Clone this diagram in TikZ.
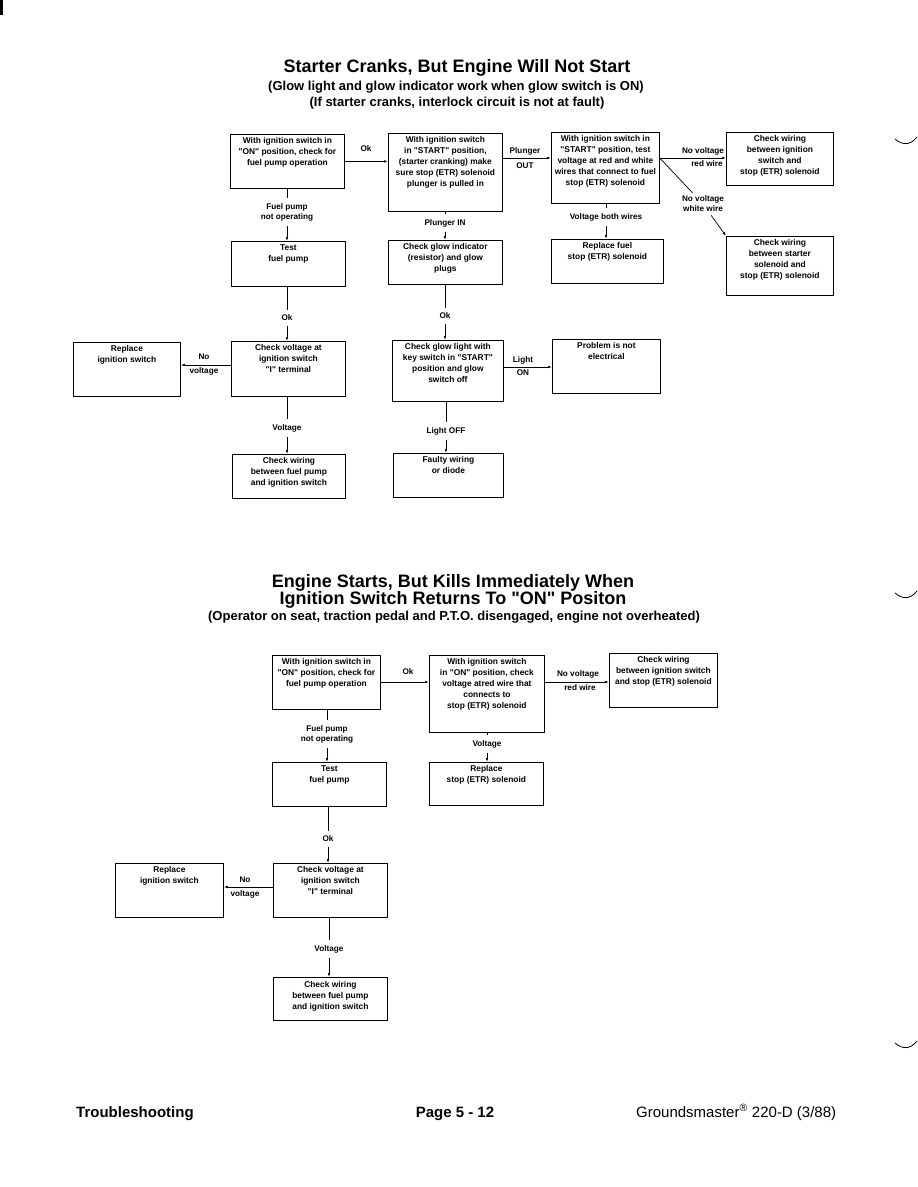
\documentclass[tikz,border=0pt]{standalone}
\usepackage{fontspec}
\setmainfont{Liberation Sans}
\usetikzlibrary{arrows.meta,calc}
\tikzset{
 box/.style={draw,line width=0.8pt,inner sep=0pt,anchor=north west,font=\bfseries\fontsize{8.4}{11}\selectfont},
 lbl/.style={font=\bfseries\fontsize{8.2}{10}\selectfont,inner sep=1pt,align=center},
 vlbl/.style={lbl,inner ysep=5pt},
 conn/.style={line width=0.7pt},
 arr/.style={conn,-{Latex[length=4pt,width=2.6pt]}},
 ttl/.style={font=\bfseries\fontsize{18}{18}\selectfont,anchor=base,inner sep=0pt},
 subttl/.style={font=\bfseries\fontsize{13}{13}\selectfont,anchor=base,inner sep=0pt},
 foot/.style={font=\fontsize{15}{15}\selectfont,inner sep=0pt},
 edgemark/.style={line width=0.8pt},
}
\newcommand\q{\textquotedbl}
\newcommand\bx[6]{\node[box] (#1) at (#2,#3) {\parbox[c][#5pt][t]{#4pt}{\centering\vspace*{3.5pt}#6\par}};}
\begin{document}
\begin{tikzpicture}[x=1pt,y=-1pt]
\useasboundingbox (0,0) rectangle (918,1187);
\fill (0,0) rectangle (3,15);
\draw[edgemark] (895,139) .. controls (902,145) and (910,146) .. (917,137);
\draw[edgemark] (895,593) .. controls (902,599) and (910,600) .. (917,591);
\draw[edgemark] (895,1043) .. controls (902,1049) and (910,1050) .. (917,1041);
% titles
\node[ttl] (t1) at (457,72) {Starter Cranks, But Engine Will Not Start};
\node[subttl] (t2) at (456,90) {(Glow light and glow indicator work when glow switch is ON)};
\node[subttl] (t3) at (457,106) {(If starter cranks, interlock circuit is not at fault)};
\node[ttl] (t4) at (453,587) {Engine Starts, But Kills Immediately When};
\node[ttl] (t5) at (453,604) {Ignition Switch Returns To \q ON\q{} Positon};
\node[subttl] (t6) at (454,620) {(Operator on seat, traction pedal and P.T.O. disengaged, engine not overheated)};
% ---------- top chart boxes
\bx{A1}{230}{134}{114}{54}{With ignition switch in\\\q ON\q{} position, check for\\fuel pump operation}
\bx{A2}{388}{133}{114}{78}{With ignition switch\\in \q START\q{} position,\\(starter cranking) make\\sure stop (ETR) solenoid\\plunger is pulled in}
\bx{A3}{551}{132}{108}{71}{With ignition switch in\\\q START\q{} position, test\\voltage at red and white\\wires that connect to fuel\\stop (ETR) solenoid}
\bx{A4}{726}{132}{107}{53}{Check wiring\\between ignition\\switch and\\stop (ETR) solenoid}
\bx{A5}{726}{236}{107}{59}{Check wiring\\between starter\\solenoid and\\stop (ETR) solenoid}
\bx{B1}{231}{241}{114}{45}{Test\\fuel pump}
\bx{B2}{388}{240}{114}{44}{Check glow indicator\\(resistor) and glow\\plugs}
\bx{B3}{551}{239}{112}{44}{Replace fuel\\stop (ETR) solenoid}
\bx{C0}{73}{342}{107}{54}{Replace\\ignition switch}
\bx{C1}{231}{341}{114}{55}{Check voltage at\\ignition switch\\\q I\q{} terminal}
\bx{C2}{392}{340}{111}{61}{Check glow light with\\key switch in \q START\q\\position and glow\\switch off}
\bx{C3}{552}{339}{108}{54}{Problem is not\\electrical}
\bx{D1}{232}{454}{113}{44}{Check wiring\\between fuel pump\\and ignition switch}
\bx{D2}{393}{453}{110}{44}{Faulty wiring\\or diode}
% top chart labels
\node[lbl] (okA) at (366,149) {Ok};
\node[lbl] (plOa) at (525,151) {Plunger};
\node[lbl] (plOb) at (525,166) {OUT};
\node[lbl] (nvRa) at (703,151) {No voltage};
\node[lbl] (nvRb) at (707,164) {red wire};
\node[lbl,inner sep=3pt] (nvW) at (703,204) {No voltage\\white wire};
\node[vlbl] (fpA) at (287,212) {Fuel pump\\not operating};
\node[vlbl] (plIn) at (445,223) {Plunger IN};
\node[vlbl] (vbw) at (606,217) {Voltage both wires};
\node[vlbl] (okB) at (287,318) {Ok};
\node[vlbl] (okC) at (445,316) {Ok};
\node[lbl] (nvCa) at (204,357) {No};
\node[lbl] (nvCb) at (204,371) {voltage};
\node[lbl] (lonA) at (523,360) {Light};
\node[lbl] (lonB) at (523,373) {ON};
\node[vlbl] (vA) at (287,428) {Voltage};
\node[vlbl] (loff) at (446,431) {Light OFF};
% top chart connectors
\draw[arr] (A1.east) -- (A1.east -| A2.west);
\draw[arr] (A2.east |- 0,158) -- (A3.west |- 0,158);
\draw[arr] (A3.east |- 0,158) -- (A4.west |- 0,158);
\draw[conn] (A3.east |- 0,158) -- (nvW);
\draw[arr] (nvW) -- (A5.north west);
\draw[conn] (A1.south -| fpA) -- (fpA.north);
\draw[arr] (fpA.south) -- (B1.north -| fpA);
\draw[conn] (A2.south -| plIn) -- (plIn.north);
\draw[arr] (plIn.south) -- (B2.north -| plIn);
\draw[conn] (A3.south -| vbw) -- (vbw.north);
\draw[arr] (vbw.south) -- (B3.north -| vbw);
\draw[conn] (B1.south -| okB) -- (okB.north);
\draw[arr] (okB.south) -- (C1.north -| okB);
\draw[conn] (B2.south -| okC) -- (okC.north);
\draw[arr] (okC.south) -- (C2.north -| okC);
\draw[arr] (C1.west |- 0,365) -- (C0.east |- 0,365);
\draw[arr] (C2.east |- 0,367) -- (C3.west |- 0,367);
\draw[conn] (C1.south -| vA) -- (vA.north);
\draw[arr] (vA.south) -- (D1.north -| vA);
\draw[conn] (C2.south -| loff) -- (loff.north);
\draw[arr] (loff.south) -- (D2.north -| loff);
% ---------- bottom chart boxes
\bx{E1}{272}{655}{108}{54}{With ignition switch in\\\q ON\q{} position, check for\\fuel pump operation}
\bx{E2}{429}{655}{115}{77}{With ignition switch\\in \q ON\q{} position, check\\voltage atred wire that\\connects to\\stop (ETR) solenoid}
\bx{E3}{609}{653}{108}{54}{Check wiring\\between ignition switch\\and stop (ETR) solenoid}
\bx{F1}{272}{762}{114}{44}{Test\\fuel pump}
\bx{F2}{429}{762}{114}{43}{Replace\\stop (ETR) solenoid}
\bx{G0}{115}{863}{108}{54}{Replace\\ignition switch}
\bx{G1}{273}{863}{114}{54}{Check voltage at\\ignition switch\\\q I\q{} terminal}
\bx{H1}{273}{977}{114}{43}{Check wiring\\between fuel pump\\and ignition switch}
% bottom chart labels
\node[lbl] (okD) at (408,672) {Ok};
\node[lbl] (nvEa) at (578,674) {No voltage};
\node[lbl] (nvEb) at (580,688) {red wire};
\node[vlbl] (fpB) at (327,734) {Fuel pump\\not operating};
\node[vlbl] (vE) at (487,744) {Voltage};
\node[vlbl] (okE) at (328,839) {Ok};
\node[lbl] (nvGa) at (245,880) {No};
\node[lbl] (nvGb) at (245,894) {voltage};
\node[vlbl] (vG) at (329,949) {Voltage};
% bottom chart connectors
\draw[arr] (E1.east |- 0,682) -- (E2.west |- 0,682);
\draw[arr] (E2.east |- 0,682) -- (E3.west |- 0,682);
\draw[conn] (E1.south -| fpB) -- (fpB.north);
\draw[arr] (fpB.south) -- (F1.north -| fpB);
\draw[conn] (E2.south -| vE) -- (vE.north);
\draw[arr] (vE.south) -- (F2.north -| vE);
\draw[conn] (F1.south -| okE) -- (okE.north);
\draw[arr] (okE.south) -- (G1.north -| okE);
\draw[arr] (G1.west |- 0,887) -- (G0.east |- 0,887);
\draw[conn] (G1.south -| vG) -- (vG.north);
\draw[arr] (vG.south) -- (H1.north -| vG);
% footer
\node[foot,font=\bfseries\fontsize{15}{15}\selectfont,anchor=base west] (f1) at (76,1117) {Troubleshooting};
\node[foot,font=\bfseries\fontsize{15}{15}\selectfont,anchor=base] (f2) at (455,1117) {Page 5 - 12};
\node[foot,anchor=base west] (f3) at (636,1117) {Groundsmaster\textsuperscript{\textregistered} 220-D (3/88)};
\end{tikzpicture}
\end{document}
